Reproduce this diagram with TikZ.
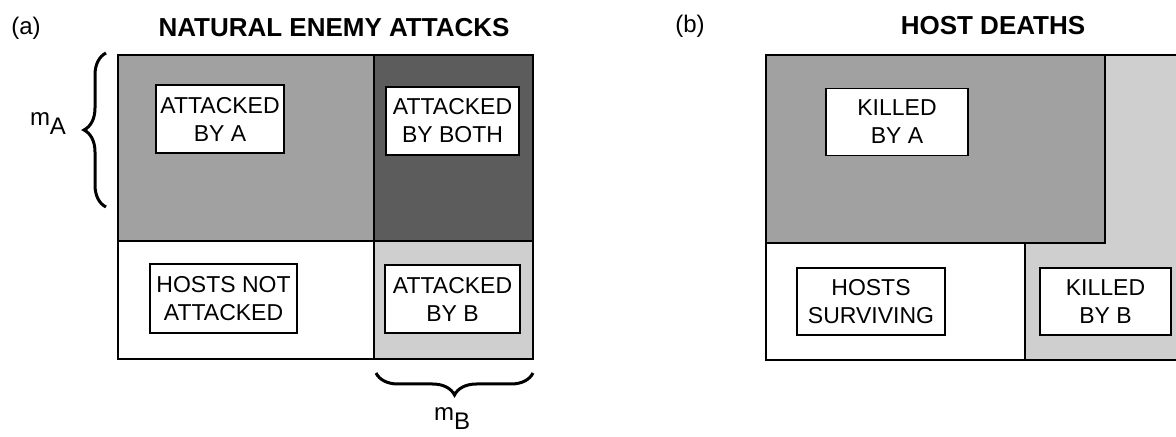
\documentclass[tikz,border=0pt]{standalone}
\usepackage{fontspec}
\setmainfont{Liberation Sans}
\usetikzlibrary{decorations.pathreplacing}
\definecolor{cellmid}{gray}{0.63}
\definecolor{celldark}{gray}{0.36}
\definecolor{celllight}{gray}{0.81}

\begin{document}
\begin{tikzpicture}[x=0.5pt,y=-0.5pt,
  labelbox/.style={draw,line width=0.8pt,fill=white,align=center,inner sep=0pt,
    font=\fontsize{11.5}{14}\selectfont},
  paneltag/.style={font=\fontsize{12}{14}\selectfont},
  paneltitle/.style={font=\bfseries\fontsize{13}{15}\selectfont},
  cellline/.style={line width=1pt},
  bracebar/.style={line width=1.5pt,decorate,decoration={brace,amplitude=11pt}},
  mlabel/.style={font=\fontsize{12}{14}\selectfont}]
\clip (0,0) rectangle (1176,437);

\node[paneltag] (tagA) at (26,28) {(a)};
\node[paneltitle] (titleA) at (334,28) {NATURAL ENEMY ATTACKS};
\fill[cellmid] (118,55) rectangle (374,241);
\fill[celldark] (374,55) rectangle (533,241);
\fill[celllight] (374,241) rectangle (533,359);
\draw[cellline] (118,55) rectangle (533,359);
\draw[cellline] (118,241) -- (533,241);
\draw[cellline] (374,55) -- (374,359);
\node[labelbox,minimum width=64pt,minimum height=34pt] (byA) at (220,119) {ATTACKED\\BY A};
\node[labelbox,minimum width=66.5pt,minimum height=34pt] (both) at (452.5,121) {ATTACKED\\BY BOTH};
\node[labelbox,minimum width=73.5pt,minimum height=34.5pt] (notatt) at (223.5,298.5) {HOSTS NOT\\ATTACKED};
\node[labelbox,minimum width=67.5pt,minimum height=34pt] (byB) at (452.5,299) {ATTACKED\\BY B};

\coordinate (mAlow) at (106,207);
\coordinate (mAhigh) at (106,53);
\draw[bracebar] (mAlow) -- (mAhigh);
\node[mlabel] (mA) at (48,124) {m\raisebox{-4.5pt}{A}};
\coordinate (mBright) at (533,373);
\coordinate (mBleft) at (376,373);
\draw[bracebar] (mBright) -- (mBleft);
\node[mlabel] (mB) at (452,419) {m\raisebox{-4.5pt}{B}};

\node[paneltag] (tagB) at (690,26) {(b)};
\node[paneltitle] (titleB) at (993,26) {HOST DEATHS};
\fill[celllight] (766,55) rectangle (1200,360);
\fill[white] (766,243) rectangle (1025,360);
\fill[cellmid] (766,55) rectangle (1105,243);
\draw[cellline] (766,55) rectangle (1105,243);
\draw[cellline] (766,55) rectangle (1200,360);
\draw[cellline] (1025,243) -- (1025,360);
\node[labelbox,minimum width=71pt,minimum height=33.5pt] (killA) at (897,122) {KILLED\\BY A};
\node[labelbox,minimum width=74pt,minimum height=33.5pt] (surv) at (871,301.5) {HOSTS\\SURVIVING};
\node[labelbox,minimum width=65.5pt,minimum height=33.5pt] (killB) at (1105.5,301.5) {KILLED\\BY B};
\end{tikzpicture}
\end{document}
